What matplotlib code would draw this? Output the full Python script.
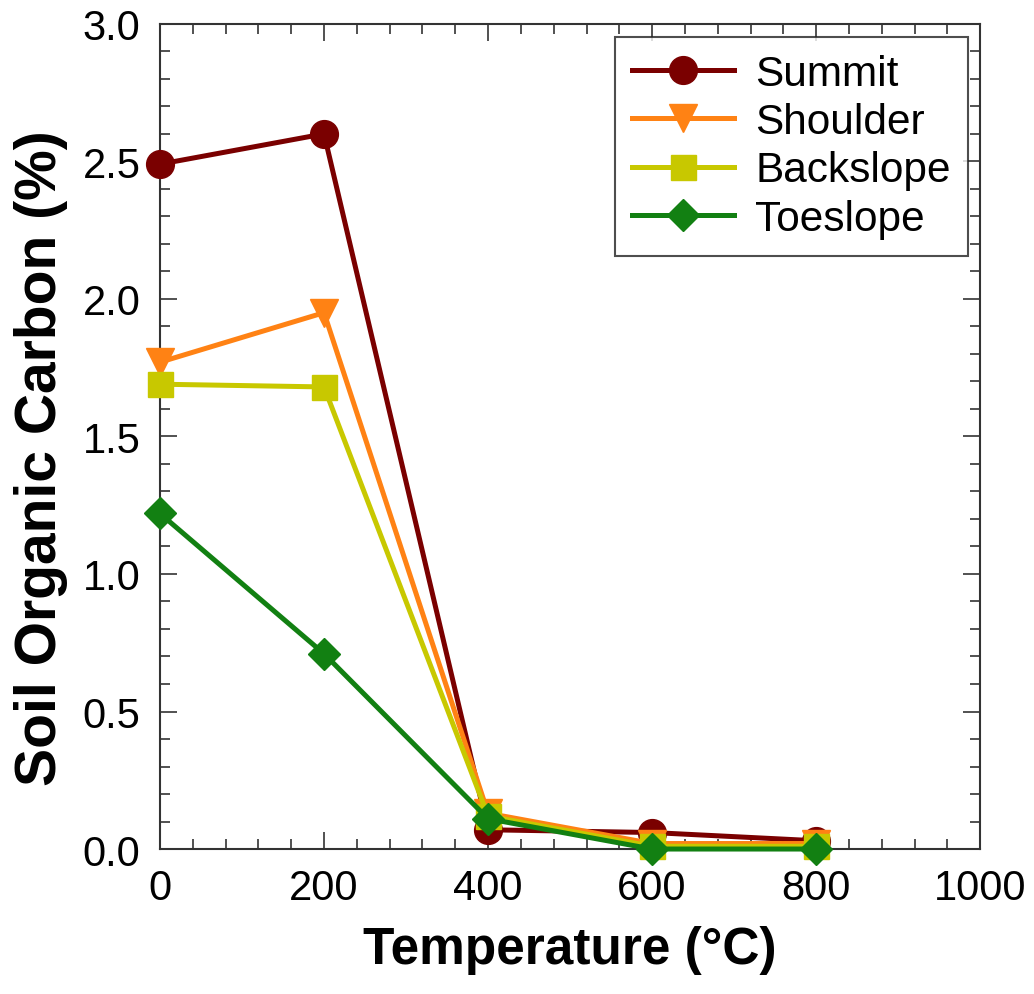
import matplotlib
matplotlib.use("Agg")
import matplotlib.pyplot as plt
from matplotlib.ticker import MultipleLocator, FormatStrFormatter

plt.rcParams['font.family'] = ['Liberation Sans', 'DejaVu Sans']

temperature = [0, 200, 400, 600, 800]
summit = [2.49, 2.60, 0.07, 0.06, 0.03]
shoulder = [1.77, 1.95, 0.13, 0.02, 0.02]
backslope = [1.69, 1.68, 0.12, 0.01, 0.01]
toeslope = [1.22, 0.71, 0.11, 0.00, 0.00]

series = [
    ("Summit", summit, "#7a0000", "o", 20),
    ("Shoulder", shoulder, "#ff8214", "v", 20),
    ("Backslope", backslope, "#c8c800", "s", 18),
    ("Toeslope", toeslope, "#128012", "D", 16),
]

fig = plt.figure(figsize=(10.34, 9.95), dpi=100)
ax = fig.add_axes([0.1547, 0.1457, 0.7933, 0.8293])

for name, vals, col, mk, ms in series:
    ax.plot(temperature, vals, color=col, marker=mk, markersize=ms,
            linewidth=3.6, label=name, clip_on=False, zorder=3)

ax.set_xlim(0, 1000)
ax.set_ylim(0, 3.0)
ax.xaxis.set_major_locator(MultipleLocator(200))
ax.xaxis.set_minor_locator(MultipleLocator(40))
ax.yaxis.set_major_locator(MultipleLocator(0.5))
ax.yaxis.set_minor_locator(MultipleLocator(0.1))
ax.yaxis.set_major_formatter(FormatStrFormatter('%.1f'))

ax.tick_params(which='both', direction='in', top=True, right=True,
               color='#333333', width=1.2)
ax.tick_params(which='major', length=12, labelsize=30, pad=14)
ax.tick_params(which='minor', length=7)
for s in ax.spines.values():
    s.set_linewidth(1.5)
    s.set_color('#333333')

ax.set_xlabel("Temperature (°C)", fontsize=37, fontweight='bold', labelpad=12)
ax.set_ylabel("Soil Organic Carbon (%)", fontsize=41, fontweight='bold')
ax.yaxis.set_label_coords(-0.112, 0.475)

leg = ax.legend(loc='upper right', fontsize=30.5, frameon=True, fancybox=False,
                edgecolor='#222222', handlelength=2.4, handletextpad=0.5,
                labelspacing=0.2, borderpad=0.4, borderaxespad=0.3)
leg.get_frame().set_linewidth(1.5)

fig.savefig("out.png", dpi=100)
